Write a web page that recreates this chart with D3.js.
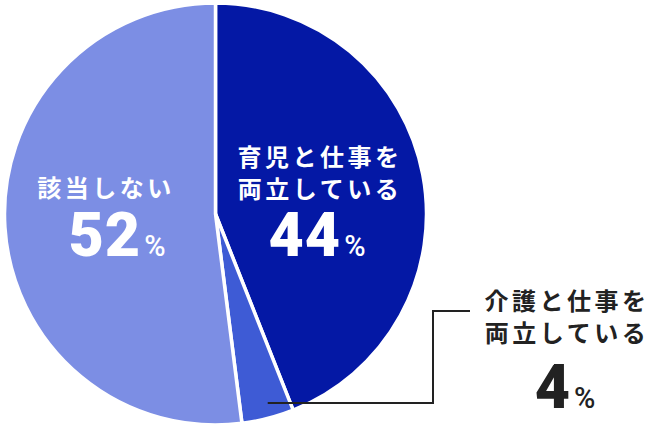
<!DOCTYPE html>
<html><head><meta charset="utf-8">
<script src="https://cdn.jsdelivr.net/npm/d3@7"></script>
<style>
html,body{margin:0;padding:0;background:#fff;}
svg{display:block;}
</style></head>
<body>
<svg id="chart" width="650" height="428"></svg>
<script>
const categories = ["育児と仕事を両立している", "介護と仕事を両立している", "該当しない"];
const values = [44, 4, 52];
const colors = ["#0418a5", "#3e5bd5", "#7c8ee4"];
const labelLines = [["育児と仕事を", "両立している"], ["介護と仕事を", "両立している"], ["該当しない"]];

const svg = d3.select("#chart");
const cx = 215.5, cy = 214, r = 211;
const g = svg.append("g").attr("transform", `translate(${cx},${cy})`);

const pie = d3.pie().sort(null).value(d => d)(values);
const arc = d3.arc().innerRadius(0).outerRadius(r);

g.selectAll("path").data(pie).join("path")
  .attr("d", arc)
  .attr("fill", (d, i) => colors[i])
  .attr("stroke", "#fff")
  .attr("stroke-width", 3.5)
  .attr("stroke-linejoin", "miter");

const jp = "'Noto Sans CJK JP','Noto Sans',sans-serif";
const num = "Roboto,'Noto Sans',sans-serif";

function label(x, nx, lines, y0, numBase, value, fill) {
  const t = svg.append("g");
  lines.forEach((s, k) => {
    t.append("text")
      .attr("x", x + 2).attr("y", y0 + k * 32)
      .attr("text-anchor", "middle")
      .attr("font-family", jp).attr("font-size", 24).attr("font-weight", 700)
      .attr("letter-spacing", 3.5)
      .attr("fill", fill).text(s);
  });
  const n = t.append("text").attr("x", nx).attr("y", numBase)
    .attr("text-anchor", "middle").attr("fill", fill).attr("font-family", num);
  n.append("tspan").attr("font-size", 61).attr("font-weight", 900).attr("letter-spacing", 1).text(value);
  n.append("tspan").attr("font-size", 29).attr("font-weight", 500).attr("dx", 3).text("%");
}

label(318, 317, labelLines[0], 166, 256, values[0], "#fff");
label(104, 117, labelLines[2], 197, 256, values[2], "#fff");
label(565, 565, labelLines[1], 310, 408, values[1], "#222");

// leader line for the small slice
const mid = (pie[1].startAngle + pie[1].endAngle) / 2;
const ax = cx + Math.sin(mid) * r * 0.9;
const ay = 403;
svg.append("path")
  .attr("d", `M${ax + 5},${ay} H433 V311 H470`)
  .attr("fill", "none").attr("stroke", "#222").attr("stroke-width", 2);
</script>
</body></html>
